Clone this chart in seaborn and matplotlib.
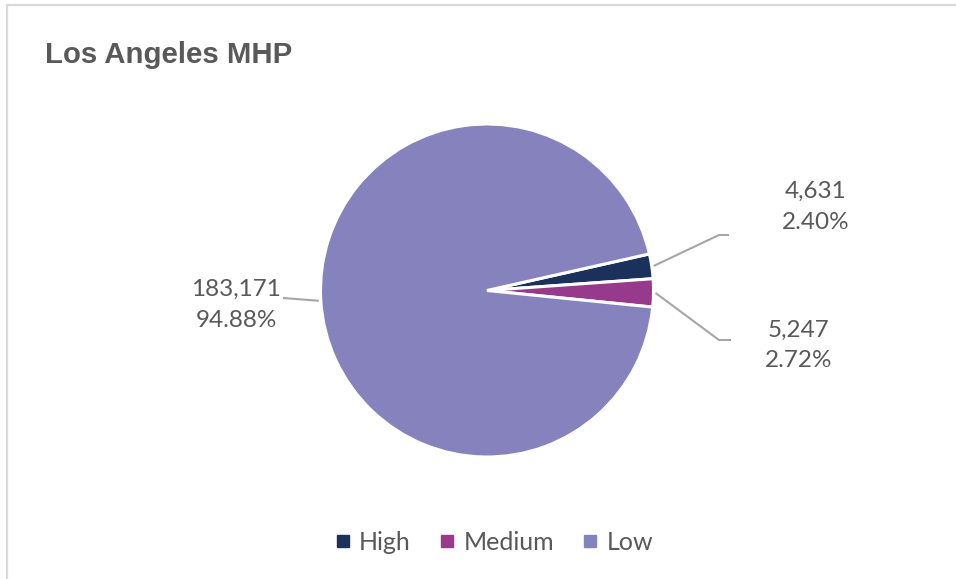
import numpy as np
import matplotlib
matplotlib.use("Agg")
import matplotlib.pyplot as plt
from matplotlib.lines import Line2D
import seaborn as sns

# Data
categories = ["High", "Medium", "Low"]
counts = [4631, 5247, 183171]
colors = ["#1b315c", "#983a8c", "#8682bd"]
title = "Los Angeles MHP"

sns.set_theme(style="white")
plt.rcParams["font.family"] = ["Lato", "DejaVu Sans"]

W, H = 956, 579
fig = plt.figure(figsize=(W / 100, H / 100), dpi=100)
ax = fig.add_axes([0, 0, 1, 1])

cx, cy, r = 487, 290.5, 166.5
start = 12.7  # degrees above the 3 o'clock line

# y axis runs downward (pixel-like), so counterclock in data space is clockwise on screen
wedges, _ = ax.pie(
    counts,
    colors=colors,
    center=(cx, cy),
    radius=r,
    startangle=-start,
    counterclock=True,
    wedgeprops=dict(edgecolor="white", linewidth=2.2),
)
ax.set_xlim(0, W)
ax.set_ylim(H, 0)
ax.set_aspect("auto")
ax.axis("off")

total = sum(counts)
text_color = "#595959"
line_color = "#a6a6a6"

# label anchor (text centre), leader bend point, leader end point
label_specs = {
    "High": dict(text=(816, 207), bend=(719, 235), end=(729, 235)),
    "Medium": dict(text=(799, 345.5), bend=(719, 340), end=(731, 340)),
    "Low": dict(text=(236, 305), bend=None, end=(283, 298)),
}

for wedge, name, val in zip(wedges, categories, counts):
    mid = np.deg2rad((wedge.theta1 + wedge.theta2) / 2)
    sx = cx + (r + 2) * np.cos(mid)
    sy = cy + (r + 2) * np.sin(mid)
    spec = label_specs[name]
    xs, ys = [sx], [sy]
    if spec["bend"] is not None:
        xs.append(spec["bend"][0]); ys.append(spec["bend"][1])
    xs.append(spec["end"][0]); ys.append(spec["end"][1])
    ax.plot(xs, ys, color=line_color, lw=1.5, solid_capstyle="butt")
    pct = val / total * 100
    ax.text(spec["text"][0], spec["text"][1], f"{val:,}\n{pct:.2f}%",
            ha="center", va="center", fontsize=17.5, color=text_color,
            linespacing=1.55)

# Title
fig.text(45 / W, 1 - 63 / H, title, ha="left", va="baseline",
         fontsize=21.2, fontweight="bold", color="#595959",
         family=["Liberation Sans", "DejaVu Sans"])

# Legend
handles = [Line2D([0], [0], marker="s", linestyle="none", markersize=8.5,
                  markerfacecolor=c, markeredgecolor=c) for c in colors]
fig.legend(handles, categories, loc="center", bbox_to_anchor=(493 / W, 1 - 542 / H),
           ncol=3, frameon=False, fontsize=18, labelcolor=text_color,
           handletextpad=0.25, columnspacing=1.05, handlelength=0.8)

# Chart-area border (left and top edges)
fig.add_artist(Line2D([7 / W, 7 / W], [0, 1 - 5 / H], color="#d9d9d9", lw=1.6,
                      transform=fig.transFigure))
fig.add_artist(Line2D([7 / W, 1], [1 - 5 / H, 1 - 5 / H], color="#d9d9d9", lw=1.6,
                      transform=fig.transFigure))

fig.savefig("out.png", dpi=100, facecolor="white")
